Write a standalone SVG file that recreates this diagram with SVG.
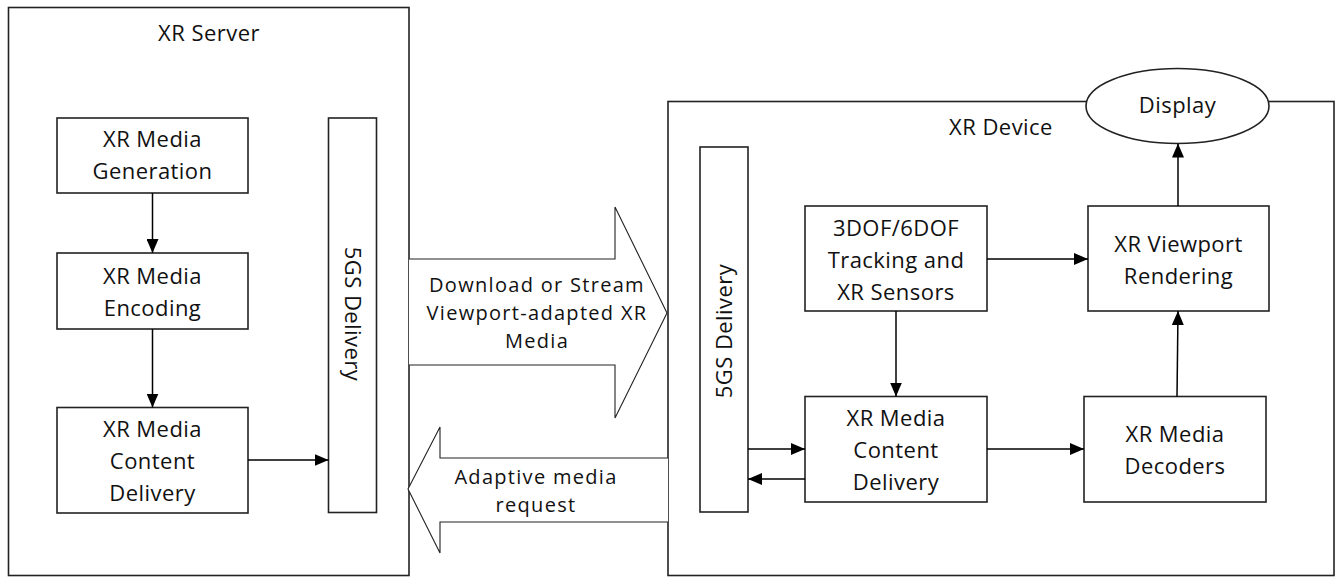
<svg xmlns="http://www.w3.org/2000/svg" width="1344" height="587" viewBox="0 0 1344 587">
<defs>
<style>
.box{fill:#fff;stroke:#222;stroke-width:1.6}
.big{fill:#fff;stroke:#222;stroke-width:1.1}
.lbl{font-family:"Open Sans","Noto Sans","Liberation Sans",sans-serif;font-size:22px;letter-spacing:0.45px;fill:#111;text-anchor:middle}
.alb{font-size:20px;letter-spacing:1.3px}
.con{fill:none;stroke:#000;stroke-width:1.5}
</style>
<marker id="ah" viewBox="0 0 14 12" refX="14" refY="6" markerWidth="14" markerHeight="12" markerUnits="userSpaceOnUse" orient="auto">
<path d="M0,0 L14,6 L0,12 Z" fill="#000"/>
</marker>
</defs>
<rect width="1344" height="587" fill="#fff"/>

<g id="xr-server">
<rect class="box" x="8.5" y="7.5" width="400.5" height="568"/>
<text class="lbl" x="209" y="41">XR Server</text>
</g>

<g id="xr-device">
<rect class="box" x="668" y="101.5" width="666" height="474"/>
<text class="lbl" x="1001" y="135">XR Device</text>
</g>

<g id="download-arrow">
<path class="big" d="M409,259 H615 V207 L667,313 L615,418 V365 H409"/>
<text class="lbl alb" x="537" y="292">Download or Stream<tspan x="537" dy="28">Viewport-adapted XR</tspan><tspan x="537" dy="28">Media</tspan></text>
</g>

<g id="request-arrow">
<path class="big" d="M668,458 H440 V427 L408,489 L440,553 V522 H668"/>
<text class="lbl alb" x="536" y="484">Adaptive media<tspan x="536" dy="28">request</tspan></text>
</g>

<g id="media-generation">
<rect class="box" x="57" y="118" width="191" height="75"/>
<text class="lbl" x="152.5" y="147">XR Media<tspan x="152.5" dy="32">Generation</tspan></text>
</g>

<g id="media-encoding">
<rect class="box" x="57" y="253" width="191" height="76"/>
<text class="lbl" x="152.5" y="284">XR Media<tspan x="152.5" dy="32">Encoding</tspan></text>
</g>

<g id="server-content-delivery">
<rect class="box" x="57" y="407.5" width="191" height="105.5"/>
<text class="lbl" x="152.5" y="437">XR Media<tspan x="152.5" dy="32">Content</tspan><tspan x="152.5" dy="32">Delivery</tspan></text>
</g>

<g id="server-5gs">
<rect class="box" x="328.5" y="118" width="48" height="394.5"/>
<text class="lbl" transform="translate(345,314) rotate(90)" x="0" y="0">5GS Delivery</text>
</g>

<g id="device-5gs">
<rect class="box" x="700" y="147" width="48" height="365"/>
<text class="lbl" transform="translate(732,331) rotate(-90)" x="0" y="0">5GS Delivery</text>
</g>

<g id="tracking">
<rect class="box" x="805" y="206" width="182" height="105"/>
<text class="lbl" x="896" y="236">3DOF/6DOF<tspan x="896" dy="32">Tracking and</tspan><tspan x="896" dy="32">XR Sensors</tspan></text>
</g>

<g id="viewport-rendering">
<rect class="box" x="1088" y="206" width="181" height="105"/>
<text class="lbl" x="1178.5" y="252">XR Viewport<tspan x="1178.5" dy="32">Rendering</tspan></text>
</g>

<g id="device-content-delivery">
<rect class="box" x="805" y="396.5" width="182" height="105.5"/>
<text class="lbl" x="896" y="426">XR Media<tspan x="896" dy="32">Content</tspan><tspan x="896" dy="32">Delivery</tspan></text>
</g>

<g id="decoders">
<rect class="box" x="1084" y="396.5" width="182" height="105.5"/>
<text class="lbl" x="1175" y="442">XR Media<tspan x="1175" dy="32">Decoders</tspan></text>
</g>

<g id="display">
<ellipse class="box" cx="1177.5" cy="106" rx="91.5" ry="37.5"/>
<text class="lbl" x="1177.5" y="113">Display</text>
</g>

<g id="connectors">
<line class="con" x1="152.5" y1="193" x2="152.5" y2="253" marker-end="url(#ah)"/>
<line class="con" x1="152.5" y1="329" x2="152.5" y2="407.5" marker-end="url(#ah)"/>
<line class="con" x1="248" y1="460" x2="328.5" y2="460" marker-end="url(#ah)"/>
<line class="con" x1="748" y1="449" x2="805" y2="449" marker-end="url(#ah)"/>
<line class="con" x1="805" y1="479" x2="748" y2="479" marker-end="url(#ah)"/>
<line class="con" x1="987" y1="259" x2="1088" y2="259" marker-end="url(#ah)"/>
<line class="con" x1="896" y1="311" x2="896" y2="396.5" marker-end="url(#ah)"/>
<line class="con" x1="987" y1="449" x2="1084" y2="449" marker-end="url(#ah)"/>
<line class="con" x1="1177" y1="396.5" x2="1178" y2="311" marker-end="url(#ah)"/>
<line class="con" x1="1178" y1="206" x2="1178" y2="143.5" marker-end="url(#ah)"/>
</g>
</svg>
